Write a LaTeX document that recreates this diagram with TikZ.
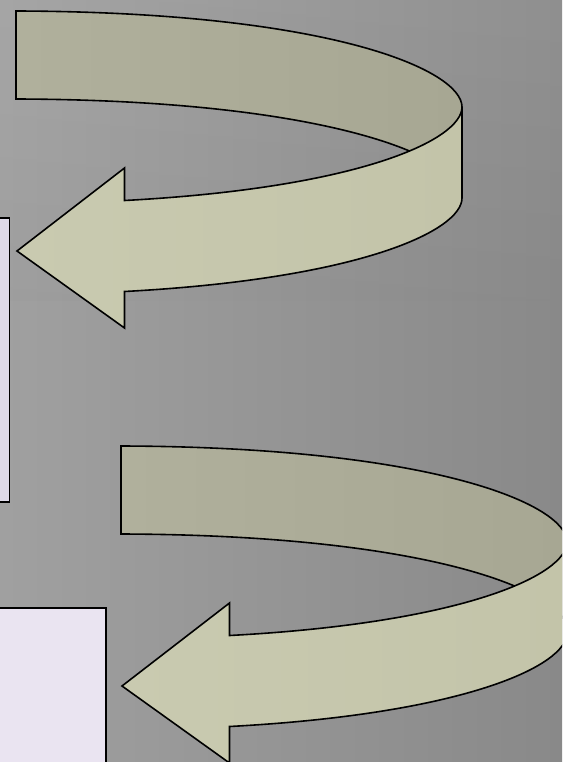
\documentclass[tikz,border=0pt]{standalone}
\usetikzlibrary{calc}
\definecolor{bgL}{RGB}{160,160,160}
\definecolor{bgR}{RGB}{137,137,137}
\definecolor{backL}{RGB}{176,176,156}
\definecolor{backR}{RGB}{167,167,147}
\definecolor{frontL}{RGB}{201,202,176}
\definecolor{frontR}{RGB}{195,196,169}
\definecolor{boxA}{RGB}{222,218,232}
\definecolor{boxB}{RGB}{234,228,241}
\tikzset{
  outline/.style={draw=black, line width=1.6pt, line join=miter},
  backband/.style={outline, left color=backL, right color=backR},
  frontband/.style={outline, left color=frontL, right color=frontR},
  panel/.style={outline, rectangle, inner sep=0pt},
}
\newcommand{\ribbonarrow}[2]{%
  \begin{scope}[shift={(#1,#2)}]
    \path[backband] (16,11) .. controls (330,12) and (462,70) .. (462,107)
      -- (462,195) .. controls (462,158) and (330,100) .. (16,99) -- cycle;
    \path[frontband] (462,107) .. controls (462,139.4) and (360.7,187.9) .. (124.5,200.5)
      -- (124.5,168) -- (17,251) -- (124.5,328) -- (124.5,291.5)
      .. controls (360.7,278.9) and (462,230.4) .. (462,198) -- cycle;
  \end{scope}}
\begin{document}
\begin{tikzpicture}[x=1pt,y=-1pt]
  \useasboundingbox (0,0) rectangle (562,762);
  \clip (0,0) rectangle (562,762);
  \shade[left color=bgL, right color=bgR] (0,0) rectangle (562,762);
  \shade[top color=white, bottom color=bgR, opacity=0.06] (0,0) rectangle (562,300);
  % upper ribbon arrow
  \ribbonarrow{0}{0}
  % lower ribbon arrow
  \ribbonarrow{105}{435}
  % boxes
  \node[panel, fill=boxA, minimum width=14.5pt, minimum height=284pt] (box1) at (2.25,360) {};
  \node[panel, fill=boxB, minimum width=111pt, minimum height=162pt] (box2) at (50.5,689) {};
\end{tikzpicture}
\end{document}
